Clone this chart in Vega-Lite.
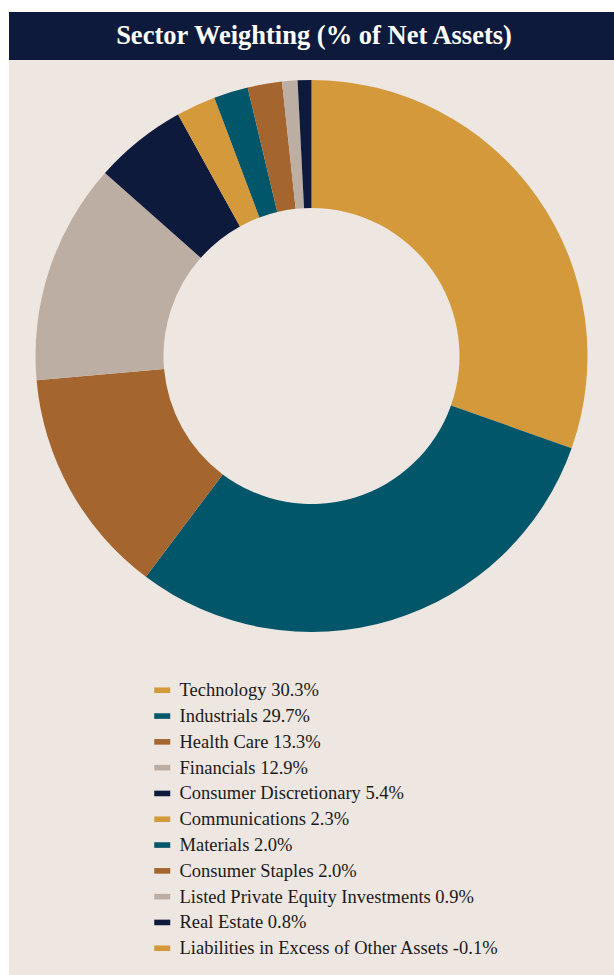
{
  "$schema": "https://vega.github.io/schema/vega-lite/v6.json",
  "background": "#FFFFFF",
  "padding": {"left": 9, "top": 12, "right": 0, "bottom": 0},
  "spacing": 0,
  "config": {
    "view": {"stroke": null},
    "font": "Liberation Serif"
  },
  "vconcat": [
    {
      "width": 605,
      "height": 48,
      "view": {"fill": "#0D1A3C", "stroke": null},
      "data": {"values": [{"title": "Sector Weighting (% of Net Assets)"}]},
      "mark": {"type": "text", "font": "Liberation Serif", "fontSize": 26.5, "fontWeight": "bold", "color": "#FFFFFF", "align": "center", "baseline": "middle", "dx": 2.5},
      "encoding": {"text": {"field": "title"}}
    },
    {
      "width": 605,
      "height": 592,
      "view": {"fill": "#EEE6E0", "stroke": null},
      "data": {
        "values": [
          {"label": "Technology 30.3%", "value": 30.3, "order": 1},
          {"label": "Industrials 29.7%", "value": 29.7, "order": 2},
          {"label": "Health Care 13.3%", "value": 13.3, "order": 3},
          {"label": "Financials 12.9%", "value": 12.9, "order": 4},
          {"label": "Consumer Discretionary 5.4%", "value": 5.4, "order": 5},
          {"label": "Communications 2.3%", "value": 2.3, "order": 6},
          {"label": "Materials 2.0%", "value": 2.0, "order": 7},
          {"label": "Consumer Staples 2.0%", "value": 2.0, "order": 8},
          {"label": "Listed Private Equity Investments 0.9%", "value": 0.9, "order": 9},
          {"label": "Real Estate 0.8%", "value": 0.8, "order": 10},
          {"label": "Liabilities in Excess of Other Assets -0.1%", "value": -0.1, "order": 11}
        ]
      },
      "transform": [{"filter": "datum.value > 0"}],
      "mark": {"type": "arc", "outerRadius": 276, "innerRadius": 148},
      "encoding": {
        "theta": {"field": "value", "type": "quantitative", "stack": true},
        "order": {"field": "order", "type": "quantitative"},
        "color": {
          "field": "label",
          "type": "nominal",
          "scale": {
            "domain": [
              "Technology 30.3%",
              "Industrials 29.7%",
              "Health Care 13.3%",
              "Financials 12.9%",
              "Consumer Discretionary 5.4%",
              "Communications 2.3%",
              "Materials 2.0%",
              "Consumer Staples 2.0%",
              "Listed Private Equity Investments 0.9%",
              "Real Estate 0.8%",
              "Liabilities in Excess of Other Assets -0.1%"
            ],
            "range": ["#D4993A", "#01566A", "#A4652F", "#BDAEA3", "#0D1A3C", "#D4993A", "#01566A", "#A4652F", "#BDAEA3", "#0D1A3C", "#D4993A"]
          },
          "legend": {
            "title": null,
            "orient": "none",
            "legendX": 144,
            "legendY": 669,
            "padding": 0,
            "symbolType": "M-1,-0.35H1V0.35H-1Z",
            "symbolSize": 256,
            "symbolStrokeWidth": 0,
            "symbolOpacity": 1,
            "labelFont": "Liberation Serif",
            "labelFontSize": 18.5,
            "labelColor": "#1A1A1A",
            "labelOffset": 8,
            "labelLimit": 600,
            "rowPadding": 6.8
          }
        }
      }
    },
    {
      "width": 605,
      "height": 323,
      "view": {"fill": "#EEE6E0", "stroke": null},
      "data": {"values": []},
      "mark": {"type": "point", "opacity": 0}
    }
  ]
}
